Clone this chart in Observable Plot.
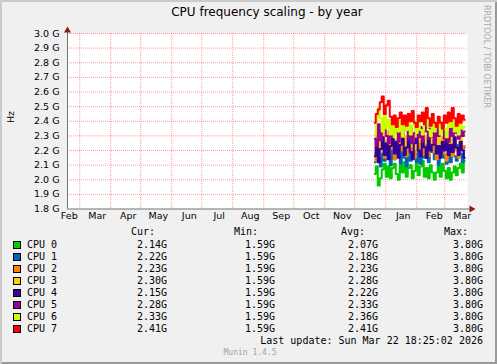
<!DOCTYPE html>
<html>
<head>
<meta charset="utf-8">
<script src="https://cdn.jsdelivr.net/npm/d3@7"></script>
<script src="https://cdn.jsdelivr.net/npm/@observablehq/plot@0.6"></script>
<style>
  html, body { margin: 0; padding: 0; background: #F0F0F0; }
  #wrap { position: relative; width: 497px; height: 364px; background: #F0F0F0;
          box-shadow: inset 2px 2px 0 #CBCBCB, inset -2px -2px 0 #999999; overflow: hidden; }
  #wrap > * { position: absolute; }
  .mono { font-family: "DejaVu Sans Mono", monospace; font-size: 10px; line-height: 12px; color: #000; white-space: pre; }
  .num { text-align: right; width: 80px; }
  .sw { width: 8px; height: 8px; box-sizing: border-box; border: 1px solid #000; }
</style>
</head>
<body>
<div id="wrap"></div>
<script>
// ---- data ----
const seriesNames = ["CPU 0", "CPU 1", "CPU 2", "CPU 3", "CPU 4", "CPU 5", "CPU 6", "CPU 7"];
const seriesColors = ["#00CC00", "#0066B3", "#FF8000", "#FFCC00", "#330099", "#990099", "#CCFF00", "#FF0000"];

const dates = [
  "2025-12-21","2025-12-23","2025-12-25","2025-12-27","2025-12-29","2025-12-31",
  "2026-01-02","2026-01-04","2026-01-06","2026-01-08","2026-01-10","2026-01-12","2026-01-14","2026-01-16",
  "2026-01-18","2026-01-20","2026-01-22","2026-01-24","2026-01-26","2026-01-28","2026-01-30",
  "2026-02-01","2026-02-03","2026-02-05","2026-02-07","2026-02-09","2026-02-11","2026-02-13",
  "2026-02-15","2026-02-17","2026-02-19","2026-02-21","2026-02-23","2026-02-25","2026-02-27",
  "2026-03-01","2026-03-03","2026-03-05","2026-03-07","2026-03-09","2026-03-11","2026-03-13",
  "2026-03-15","2026-03-17","2026-03-19","2026-03-21"
];

const cpu0 = [2.04,2.09,1.96,2.01,2.07,2.11,2.02,2.09,2.01,2.08,2.11,2.04,2.00,2.10,2.05,2.12,2.02,2.08,2.10,2.01,2.06,2.11,2.03,2.09,2.13,2.02,2.08,2.01,2.10,2.05,2.00,2.05,2.09,2.02,2.11,2.06,2.01,2.08,2.00,2.05,2.09,2.03,2.08,2.11,2.05,2.13];
const cpu1 = [2.12,2.22,2.15,2.09,2.20,2.13,2.24,2.16,2.10,2.21,2.14,2.25,2.17,2.11,2.22,2.15,2.09,2.21,2.13,2.24,2.18,2.12,2.22,2.11,2.20,2.15,2.25,2.12,2.19,2.23,2.14,2.20,2.10,2.18,2.24,2.15,2.11,2.22,2.12,2.21,2.16,2.13,2.24,2.18,2.12,2.22];
const cpu2 = [2.18,2.13,2.28,2.20,2.30,2.15,2.25,2.17,2.29,2.21,2.14,2.27,2.19,2.30,2.20,2.27,2.16,2.24,2.29,2.19,2.15,2.27,2.21,2.29,2.17,2.24,2.28,2.16,2.22,2.30,2.19,2.14,2.26,2.21,2.29,2.18,2.13,2.22,2.28,2.16,2.25,2.20,2.15,2.27,2.21,2.23];
const cpu3 = [2.22,2.34,2.26,2.19,2.36,2.27,2.21,2.33,2.24,2.35,2.27,2.20,2.31,2.25,2.34,2.22,2.30,2.36,2.23,2.29,2.21,2.33,2.26,2.35,2.22,2.30,2.25,2.34,2.21,2.28,2.33,2.23,2.31,2.20,2.29,2.34,2.24,2.31,2.22,2.33,2.26,2.28,2.35,2.23,2.30,2.30];
const cpu4 = [2.16,2.27,2.12,2.21,2.29,2.17,2.25,2.14,2.23,2.30,2.18,2.26,2.15,2.24,2.28,2.17,2.22,2.29,2.19,2.14,2.25,2.28,2.20,2.16,2.27,2.22,2.15,2.28,2.20,2.24,2.30,2.18,2.23,2.15,2.26,2.20,2.28,2.17,2.24,2.19,2.29,2.22,2.17,2.26,2.20,2.15];
const cpu5 = [2.28,2.23,2.38,2.27,2.34,2.40,2.30,2.25,2.36,2.29,2.39,2.32,2.26,2.37,2.30,2.34,2.40,2.28,2.35,2.25,2.32,2.39,2.29,2.36,2.26,2.33,2.38,2.28,2.35,2.32,2.25,2.37,2.30,2.34,2.39,2.28,2.33,2.26,2.36,2.30,2.38,2.32,2.28,2.36,2.30,2.33];
const cpu6 = [2.31,2.40,2.49,2.42,2.33,2.45,2.35,2.41,2.31,2.38,2.29,2.37,2.33,2.40,2.30,2.38,2.34,2.42,2.31,2.37,2.40,2.32,2.41,2.34,2.31,2.38,2.42,2.34,2.30,2.40,2.33,2.37,2.41,2.31,2.38,2.35,2.29,2.40,2.36,2.42,2.33,2.38,2.31,2.40,2.35,2.36];
const cpu7 = [2.39,2.45,2.48,2.53,2.57,2.45,2.51,2.54,2.43,2.38,2.44,2.36,2.42,2.46,2.38,2.44,2.37,2.45,2.40,2.47,2.39,2.36,2.44,2.40,2.46,2.38,2.49,2.42,2.37,2.45,2.39,2.36,2.43,2.39,2.35,2.44,2.39,2.46,2.40,2.49,2.42,2.37,2.45,2.39,2.44,2.41];
const seriesValues = [cpu0, cpu1, cpu2, cpu3, cpu4, cpu5, cpu6, cpu7];

const curVals = [2.14, 2.22, 2.23, 2.30, 2.15, 2.28, 2.33, 2.41];
const minVals = [1.59, 1.59, 1.59, 1.59, 1.59, 1.59, 1.59, 1.59];
const avgVals = [2.07, 2.18, 2.23, 2.28, 2.22, 2.33, 2.36, 2.41];
const maxVals = [3.80, 3.80, 3.80, 3.80, 3.80, 3.80, 3.80, 3.80];

const yTicks = [1.8, 1.9, 2.0, 2.1, 2.2, 2.3, 2.4, 2.5, 2.6, 2.7, 2.8, 2.9, 3.0];
const monthTicks = ["2025-02-01","2025-03-01","2025-04-01","2025-05-01","2025-06-01","2025-07-01","2025-08-01",
  "2025-09-01","2025-10-01","2025-11-01","2025-12-01","2026-01-01","2026-02-01","2026-03-01"];
const xStart = "2025-02-16T18:00:00Z";
const xEnd = "2026-03-23T18:00:00Z";
const titleText = "CPU frequency scaling - by year";
const lastUpdate = "Last update: Sun Mar 22 18:25:02 2026";

// ---- build ----
const x0 = new Date(xStart), x1 = new Date(xEnd);
const months = monthTicks.map(d => new Date(d));
const gridMonths = months.filter(d => d > x0 && d < x1);
const rows = [];
seriesValues.forEach((vals, i) => vals.forEach((v, j) => rows.push({series: i, date: new Date(dates[j]), value: v})));

const gridStyle = {stroke: "#FF0000", strokeOpacity: 0.4, strokeDasharray: "1,1", strokeWidth: 1};

const chart = Plot.plot({
  width: 497, height: 230,
  marginLeft: 67, marginRight: 30, marginTop: 33, marginBottom: 21.5,
  x: {type: "utc", domain: [x0, x1], axis: null},
  y: {domain: [1.8, 3.0]},
  style: {background: "transparent", fontFamily: "DejaVu Sans", fontSize: "9.5px", color: "#000", overflow: "visible"},
  marks: [
    Plot.frame({fill: "#FFFFFF", stroke: null}),
    Plot.gridY(yTicks.filter(v => v > 1.8), gridStyle),
    Plot.gridX(gridMonths, gridStyle),
    ...seriesValues.map((_, i) => Plot.line(rows.filter(r => r.series === i), {
      x: "date", y: "value", stroke: seriesColors[i], strokeWidth: 2, curve: "step"
    })),
    Plot.axisY(yTicks, {tickSize: 0, tickPadding: 8, tickFormat: d => d.toFixed(1) + " G", label: null, fill: "#000"}),
    Plot.text(months, {x: d => d, frameAnchor: "bottom", dy: 10, dx: 17.5, text: d => d3.utcFormat("%b")(d), fill: "#000", fontSize: 9.5}),
    Plot.ruleX([x0], {stroke: "#707070", insetTop: -5}),
    Plot.ruleY([1.8], {stroke: "#707070", insetRight: -5}),
    Plot.dot([x0], {x: d => d, frameAnchor: "top", dy: -3, symbol: "triangle", r: 2.6, fill: "#8B1A1A", stroke: null}),
    Plot.dot([x1], {x: d => d, y: () => 1.8, dx: 4, symbol: "triangle", rotate: 90, r: 2.6, fill: "#8B1A1A", stroke: null})
  ]
});

const wrap = document.getElementById("wrap");
chart.style.left = "0px"; chart.style.top = "0px";
wrap.appendChild(chart);

function add(html, style, cls) {
  const el = document.createElement("div");
  if (cls) el.className = cls;
  el.textContent = html;
  Object.assign(el.style, style);
  wrap.appendChild(el);
  return el;
}

add(titleText, {left: "67px", top: "4px", width: "400px", textAlign: "center",
  fontFamily: "DejaVu Sans", fontSize: "12px", lineHeight: "16px", color: "#000"});
add("Hz", {left: "1px", top: "111px", width: "20px", textAlign: "center", transform: "rotate(-90deg)",
  fontFamily: "DejaVu Sans", fontSize: "9.5px", lineHeight: "12px", color: "#000"});
add("RRDTOOL / TOBI OETIKER", {left: "481px", top: "5px", writingMode: "vertical-rl",
  fontFamily: "DejaVu Sans", fontSize: "8px", lineHeight: "10px", color: "#A8A8A8"});

// legend headers
const colRight = [167, 275, 378, 483];
const headRight = [155, 258, 365, 468];
["Cur:", "Min:", "Avg:", "Max:"].forEach((h, k) =>
  add(h, {left: (headRight[k] - 80) + "px", top: "226px"}, "mono num"));

seriesNames.forEach((name, i) => {
  const cy = 245 + 12 * i;
  add("", {left: "13px", top: (cy - 4) + "px", background: seriesColors[i]}, "sw");
  add(name, {left: "27px", top: (cy - 6) + "px"}, "mono");
  [curVals, minVals, avgVals, maxVals].forEach((arr, k) =>
    add(arr[i].toFixed(2) + "G", {left: (colRight[k] - 80) + "px", top: (cy - 6) + "px"}, "mono num"));
});
add(lastUpdate, {left: (483 - 300) + "px", top: "335px", width: "300px", textAlign: "right"}, "mono");
add("Munin 1.4.5", {left: "200px", top: "348px", width: "100px", textAlign: "center",
  fontFamily: "DejaVu Sans Mono", fontSize: "8px", lineHeight: "10px", color: "#A0A0A0"});
</script>
</body>
</html>
